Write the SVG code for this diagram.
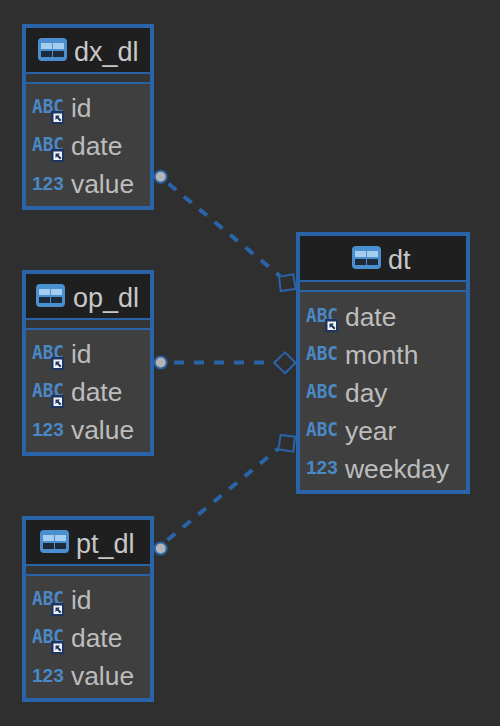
<svg xmlns="http://www.w3.org/2000/svg" width="500" height="726" viewBox="0 0 500 726">
<style>
text{font-family:"Liberation Sans",Arial,sans-serif}
.f{fill:#bdbdbd;font-size:26.400px}
.ttl{fill:#c8c8c8;font-size:27px}
.abc{fill:#4a88c6;font-family:"DejaVu Sans Mono","Liberation Mono",monospace;font-size:19px;font-weight:bold}
.num{fill:#4a88c6;font-size:19px;font-weight:bold}
.frame{fill:#3f3f3f;stroke:#2a63a8;stroke-width:4}
.head{fill:#1f1f1f}
.band{fill:#353535}
.rule{stroke:#2a63a8;stroke-width:2}
.link{fill:none;stroke:#2a63a8;stroke-width:4;stroke-dasharray:10 10}
.end{fill:none;stroke:#2a63a8;stroke-width:2}
.dot{fill:#b4b4b4;stroke:#2a63a8;stroke-width:2}
</style>
<defs>
<g id="tbl">
<rect x="0" y="0" width="29" height="23" rx="4" fill="#4a8fd0"/>
<rect x="3" y="5" width="11" height="6" fill="#a5cdf0"/>
<rect x="15" y="5" width="11" height="6" fill="#a5cdf0"/>
<rect x="3" y="13" width="11" height="6" fill="#1c2a3a"/>
<rect x="15" y="13" width="11" height="6" fill="#1c2a3a"/>
</g>
<g id="badge">
<rect x="0" y="0" width="13" height="13" fill="#1d3560"/>
<rect x="2.500" y="2.500" width="8.500" height="8.500" fill="#f2f4f8"/>
<path d="M4.500 4.500h4.500l-1.500 1.500 3 3-1.500 1.500-3-3-1.500 1.500z" fill="#1d3560"/>
</g>
</defs>
<rect width="500" height="726" fill="#2f2f2f"/>
<g id="connectors">
<path class="link" d="M168.500 183.700L280 276"/>
<path class="link" d="M174 362.500H275"/>
<path class="link" d="M167.500 540L278 448.800"/>
<circle class="dot" cx="160.700" cy="176.700" r="6"/>
<circle class="dot" cx="160.700" cy="362.500" r="6"/>
<circle class="dot" cx="160.700" cy="548.500" r="6"/>
<polygon class="end" points="279,276.700 293.300,274.300 295.700,289 280.700,291"/>
<polygon class="end" points="274.300,362.700 285,352.300 295.700,362.700 285,373.300"/>
<polygon class="end" points="280.700,435 295,436.700 293.300,451.700 278.300,449.300"/>
</g>
<g id="dx_dl">
<rect class="frame" x="24" y="26" width="128" height="182"/>
<rect class="head" x="26" y="28" width="124" height="44"/>
<rect class="band" x="26" y="73" width="124" height="9"/>
<path class="rule" d="M26 73H150M26 83H150"/>
<use href="#tbl" x="38" y="38"/>
<text class="ttl" x="74" y="61">dx_dl</text>
<text class="abc" x="32" y="113" textLength="32" lengthAdjust="spacingAndGlyphs">ABC</text><use href="#badge" x="51" y="111"/>
<text class="f" x="71" y="117">id</text>
<text class="abc" x="32" y="151" textLength="32" lengthAdjust="spacingAndGlyphs">ABC</text><use href="#badge" x="51" y="149"/>
<text class="f" x="71" y="155">date</text>
<text class="num" x="32" y="190">123</text>
<text class="f" x="71" y="193">value</text>
</g>
<g id="op_dl">
<rect class="frame" x="24" y="272" width="128" height="182"/>
<rect class="head" x="26" y="274" width="124" height="44"/>
<rect class="band" x="26" y="319" width="124" height="9"/>
<path class="rule" d="M26 319H150M26 329H150"/>
<use href="#tbl" x="36" y="284"/>
<text class="ttl" x="73" y="307">op_dl</text>
<text class="abc" x="32" y="359" textLength="32" lengthAdjust="spacingAndGlyphs">ABC</text><use href="#badge" x="51" y="357"/>
<text class="f" x="71" y="363">id</text>
<text class="abc" x="32" y="397" textLength="32" lengthAdjust="spacingAndGlyphs">ABC</text><use href="#badge" x="51" y="395"/>
<text class="f" x="71" y="401">date</text>
<text class="num" x="32" y="436">123</text>
<text class="f" x="71" y="439">value</text>
</g>
<g id="pt_dl">
<rect class="frame" x="24" y="518" width="128" height="182"/>
<rect class="head" x="26" y="520" width="124" height="44"/>
<rect class="band" x="26" y="565" width="124" height="9"/>
<path class="rule" d="M26 565H150M26 575H150"/>
<use href="#tbl" x="40" y="530"/>
<text class="ttl" x="76" y="553">pt_dl</text>
<text class="abc" x="32" y="605" textLength="32" lengthAdjust="spacingAndGlyphs">ABC</text><use href="#badge" x="51" y="603"/>
<text class="f" x="71" y="609">id</text>
<text class="abc" x="32" y="643" textLength="32" lengthAdjust="spacingAndGlyphs">ABC</text><use href="#badge" x="51" y="641"/>
<text class="f" x="71" y="647">date</text>
<text class="num" x="32" y="682">123</text>
<text class="f" x="71" y="685">value</text>
</g>
<g id="dt">
<rect class="frame" x="298" y="234" width="170" height="258"/>
<rect class="head" x="300" y="236" width="166" height="44"/>
<rect class="band" x="300" y="281" width="166" height="9"/>
<path class="rule" d="M300 281H466M300 291H466"/>
<use href="#tbl" x="352" y="246"/>
<text class="ttl" x="388" y="269">dt</text>
<text class="abc" x="306" y="322" textLength="32" lengthAdjust="spacingAndGlyphs">ABC</text><use href="#badge" x="325" y="319"/>
<text class="f" x="345" y="326">date</text>
<text class="abc" x="306" y="360" textLength="32" lengthAdjust="spacingAndGlyphs">ABC</text>
<text class="f" x="345" y="364">month</text>
<text class="abc" x="306" y="398" textLength="32" lengthAdjust="spacingAndGlyphs">ABC</text>
<text class="f" x="345" y="402">day</text>
<text class="abc" x="306" y="436" textLength="32" lengthAdjust="spacingAndGlyphs">ABC</text>
<text class="f" x="345" y="440">year</text>
<text class="num" x="306" y="474">123</text>
<text class="f" x="345" y="478">weekday</text>
</g>
</svg>
